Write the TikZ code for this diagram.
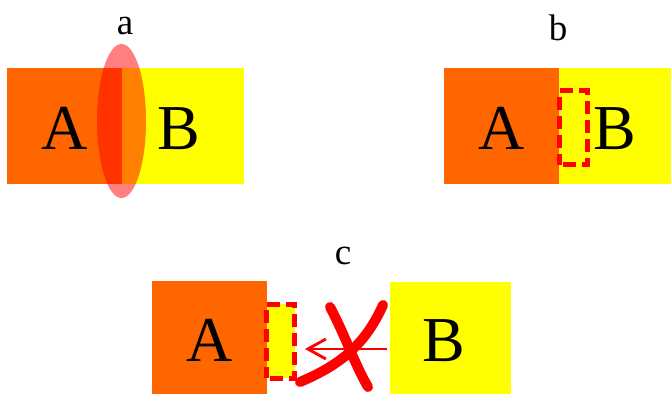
\documentclass[tikz,border=0pt]{standalone}
\usepackage{fontspec}
\setmainfont{Liberation Serif}
\usetikzlibrary{arrows.meta,shapes.geometric}
\definecolor{orangeA}{HTML}{FF6600}
\definecolor{yellowB}{HTML}{FFFF00}
\definecolor{redX}{HTML}{FF0000}
\begin{document}
\begin{tikzpicture}[x=1pt,y=-1pt,
  box/.style={rectangle, inner sep=0pt, draw=none, anchor=north west},
  letter/.style={inner sep=0pt, anchor=base, font=\fontsize{64}{64}\selectfont},
  tag/.style={inner sep=0pt, anchor=base, font=\fontsize{37}{37}\selectfont},
  dashbox/.style={rectangle, inner sep=0pt, draw=redX, line width=5pt, dash pattern=on 13pt off 6pt, dash phase=-3pt, minimum width=28pt, minimum height=74pt},
  cross/.style={draw=redX, line width=10pt, line cap=round}
]
\useasboundingbox (0,0) rectangle (671,394);
% ---- part a ----
\node[box, fill=orangeA, minimum width=115pt, minimum height=116pt] (aA) at (7,68) {};
\node[box, fill=yellowB, minimum width=122pt, minimum height=116pt] (aB) at (122,68) {};
\node[ellipse, fill=redX, fill opacity=0.5, draw=none, inner sep=0pt, minimum width=49pt, minimum height=154pt] (aE) at (121.5,121) {};
\node[letter] (aAt) at (65,149) {A};
\node[letter] (aBt) at (179,149) {B};
\node[tag] (aL) at (125,34) {a};
% ---- part b ----
\node[box, fill=orangeA, minimum width=115pt, minimum height=116pt] (bA) at (444,68) {};
\node[box, fill=yellowB, minimum width=112pt, minimum height=116pt] (bB) at (559,68) {};
\node[letter] (bAt) at (502,149) {A};
\node[letter] (bBt) at (615,149) {B};
\node[dashbox] (bD) at (573.5,127.5) {};
\node[tag] (bL) at (558,40) {b};
% ---- part c ----
\node[box, fill=orangeA, minimum width=115pt, minimum height=113pt] (cA) at (152,281) {};
\node[box, fill=yellowB, minimum width=121pt, minimum height=112pt] (cB) at (390,282) {};
\node[letter] (cAt) at (210,361) {A};
\node[letter] (cBt) at (444,361) {B};
\node[dashbox, fill=yellowB] (cD) at (280.5,341) {};
\node[tag] (cL) at (343,264) {c};
\coordinate (arrS) at (387,349);
\coordinate (arrE) at (305,349);
\draw[redX, line width=2.8pt, -{Straight Barb[length=18pt,width=20pt,line width=2.8pt]}] (arrS) -- (arrE);
\coordinate (x1s) at (330,307);
\coordinate (x1e) at (368,387);
\coordinate (x2s) at (383,305);
\coordinate (x2e) at (300,382);
\draw[cross] (x1s) .. controls (345,335) and (355,365) .. (x1e);
\draw[cross] (x2s) .. controls (365,345) and (340,365) .. (x2e);
\end{tikzpicture}
\end{document}
